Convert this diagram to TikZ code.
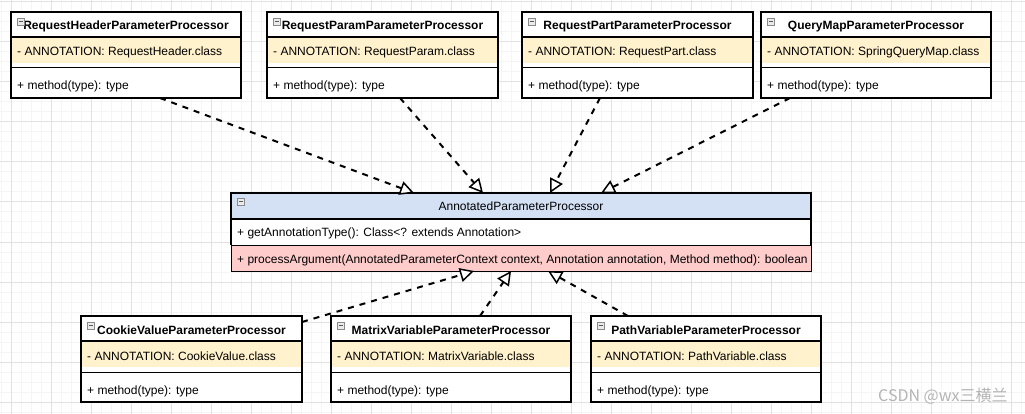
\documentclass[tikz,border=0pt]{standalone}
\usepackage{fontspec}
\setmainfont{Liberation Sans}
\newfontfamily\cjkfont{Noto Sans CJK SC}
\usetikzlibrary{arrows.meta,calc}
\definecolor{attrfill}{HTML}{FFF2CC}
\definecolor{hdrblue}{HTML}{D4E1F5}
\definecolor{pinkrow}{HTML}{FFCCCC}
\definecolor{gridmajor}{HTML}{E2E2E2}
\definecolor{gridminor}{HTML}{F5F5F5}
\definecolor{wmark}{HTML}{B4B4B4}
\definecolor{icongray}{HTML}{8A8A8A}
\tikzset{
  classarea/.style={fill=white, inner sep=0pt, outer sep=0pt, anchor=north west},
  frameline/.style={line width=2pt},
  titletext/.style={anchor=base, inner sep=0pt, font=\fontsize{12}{14}\selectfont\bfseries},
  plaintitle/.style={anchor=base, inner sep=0pt, font=\fontsize{12}{14}\selectfont},
  rowtext/.style={anchor=base west, inner sep=0pt, font=\fontsize{12}{14}\selectfont},
  dep/.style={line width=2pt, dash pattern=on 6pt off 6pt,
    -{Triangle[length=14pt, width=14pt, fill=white, line width=1.5pt]}},
  iconbox/.style={draw=icongray, fill=black!8, line width=0.8pt},
  iconbar/.style={draw=black!65, line width=1pt},
}
% #1 name, #2 x, #3 y, #4 width, #5 title, #6 attribute, #7 method
\newcommand\umlcls[7]{%
  \node[classarea, minimum width=#4pt, minimum height=86pt] (#1) at (#2,#3) {};
  \fill[attrfill] ($(#1.north west)+(0,25)$) rectangle ($(#1.north east)+(0,51)$);
  \draw[line width=1.5pt] ($(#1.north west)+(0,25)$) -- ($(#1.north east)+(0,25)$);
  \draw[line width=1pt] ($(#1.north west)+(0,56)$) -- ($(#1.north east)+(0,56)$);
  \node[titletext] at ($(#1.north)+(0,18)$) {#5};
  \node[rowtext] at ($(#1.north west)+(6,44)$) {#6};
  \node[rowtext] at ($(#1.north west)+(6,78)$) {#7};
  \draw[iconbox] ($(#1.north west)+(6,6)$) rectangle ($(#1.north west)+(13,13)$);
  \draw[iconbar] ($(#1.north west)+(7.5,9.5)$) -- ($(#1.north west)+(11.5,9.5)$);
  \draw[frameline] (#1.north west) rectangle (#1.south east);
}
\begin{document}
\begin{tikzpicture}[x=1pt,y=-1pt]
\useasboundingbox (0,0) rectangle (1025,414);
\fill[white] (0,0) rectangle (1025,414);
% grid
\foreach \gx in {1,11,...,1021} \draw[gridminor, line width=1pt] (\gx,0) -- (\gx,414);
\foreach \gy in {2,12,...,412} \draw[gridminor, line width=1pt] (0,\gy) -- (1025,\gy);
\foreach \gx in {11,51,...,1011} \draw[gridmajor, line width=1pt] (\gx,0) -- (\gx,414);
\foreach \gy in {2,42,...,402} \draw[gridmajor, line width=1pt] (0,\gy) -- (1025,\gy);

% top classes
\umlcls{B1}{11}{12}{230}{RequestHeaderParameterProcessor}{- ANNOTATION: RequestHeader.class}{+ method(type): type}
\umlcls{B2}{267}{12}{231}{RequestParamParameterProcessor}{- ANNOTATION: RequestParam.class}{+ method(type): type}
\umlcls{B3}{522}{12}{231}{RequestPartParameterProcessor}{- ANNOTATION: RequestPart.class}{+ method(type): type}
\umlcls{B4}{761}{12}{230}{QueryMapParameterProcessor}{- ANNOTATION: SpringQueryMap.class}{+ method(type): type}

% bottom classes
\umlcls{D1}{81}{316}{221}{CookieValueParameterProcessor}{- ANNOTATION: CookieValue.class}{+ method(type): type}
\umlcls{D2}{331}{316}{240}{MatrixVariableParameterProcessor}{- ANNOTATION: MatrixVariable.class}{+ method(type): type}
\umlcls{D3}{591}{316}{230}{PathVariableParameterProcessor}{- ANNOTATION: PathVariable.class}{+ method(type): type}

% central class
\node[classarea, minimum width=580pt, minimum height=78pt] (C) at (231,193) {};
\fill[hdrblue] (C.north west) rectangle ($(C.north east)+(0,26)$);
\fill[pinkrow] ($(C.north west)+(0,52)$) rectangle (C.south east);
\draw[line width=1pt] ($(C.north west)+(0,52)$) rectangle (C.south east);
\draw[line width=1.5pt] ($(C.north west)+(0,26)$) -- ($(C.north east)+(0,26)$);
\draw[frameline] ($(C.north west)+(0,52)$) -- (C.north west) -- (C.north east) -- ($(C.north east)+(0,52)$);
\node[plaintitle] at ($(C.north)+(0,17.7)$) {AnnotatedParameterProcessor};
\node[rowtext] at ($(C.north west)+(6,43.7)$) {+ getAnnotationType(): Class<? extends Annotation>};
\node[rowtext] at ($(C.north west)+(6,70.3)$) {+ processArgument(AnnotatedParameterContext context, Annotation annotation, Method method): boolean};
\draw[iconbox] ($(C.north west)+(6,5)$) rectangle ($(C.north west)+(13,12)$);
\draw[iconbar] ($(C.north west)+(7.5,8.5)$) -- ($(C.north west)+(11.5,8.5)$);

% realization connectors
\draw[dep] ($(B1.south west)+(149,0)$) -- ($(C.north west)+(183,0)$);
\draw[dep] ($(B2.south west)+(133,0)$) -- ($(C.north west)+(252,0)$);
\draw[dep] ($(B3.south west)+(78,0)$) -- ($(C.north west)+(319,0)$);
\draw[dep] ($(B4.south west)+(29,0)$) -- ($(C.north west)+(370,0)$);
\draw[dep] ($(D1.north east)+(0,6)$) -- ($(C.south west)+(243,0)$);
\draw[dep] ($(D2.north west)+(149,0)$) -- ($(C.south west)+(280,0)$);
\draw[dep] ($(D3.north west)+(37,0)$) -- ($(C.south west)+(317,0)$);

% watermark
\node[anchor=base west, inner sep=0pt, text=wmark, font=\cjkfont\fontsize{16}{18}\selectfont] (wm) at (878,401.7) {CSDN @wx三横兰};
\end{tikzpicture}
\end{document}
